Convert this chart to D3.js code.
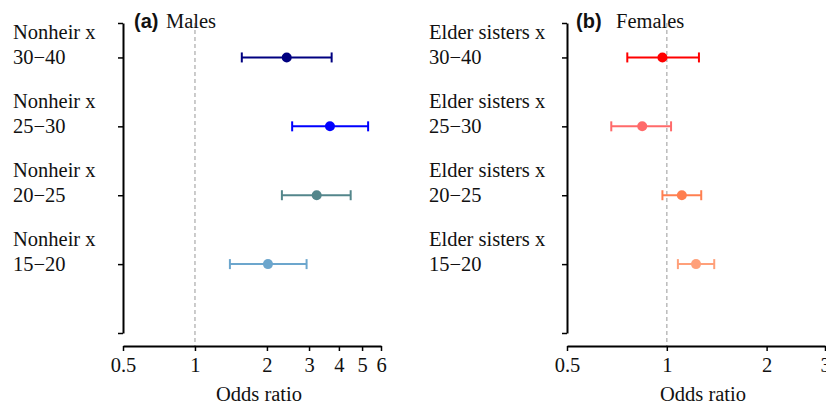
<!DOCTYPE html>
<html>
<head>
<meta charset="utf-8">
<script src="https://cdn.jsdelivr.net/npm/d3@7"></script>
<style>
  html, body { margin: 0; padding: 0; background: #fff; }
  svg { display: block; }
  text { font-family: "Liberation Serif", "Times New Roman", serif; fill: #111; }
</style>
</head>
<body>
<svg id="chart" width="826" height="407"></svg>
<script>
// age groups, top to bottom
const ageGroups = ["30\u221240", "25\u221230", "20\u221225", "15\u221220"];
const rowPos = [4, 3, 2, 1];

// (a) Males: Nonheir x age
const maleOR = [2.42, 3.67, 3.23, 2.02];
const maleLo = [1.57, 2.55, 2.31, 1.40];
const maleHi = [3.73, 5.30, 4.48, 2.93];
const maleColors = ["#000080", "#0000ff", "#53868b", "#6ca6cd"];
const maleTicks = [0.5, 1, 2, 3, 4, 5, 6];

// (b) Females: Elder sisters x age
const femaleOR = [0.97, 0.843, 1.11, 1.225];
const femaleLo = [0.76, 0.68, 0.97, 1.08];
const femaleHi = [1.25, 1.03, 1.27, 1.39];
const femaleColors = ["#ff0000", "#ff6a6a", "#ff7f50", "#ffa07a"];
const femaleTicks = [0.5, 1, 2, 3];

const svg = d3.select("#chart");
const fs = "20.5px";

function panel(o) {
  const x = d3.scaleLog().domain(o.domain).range(o.xRange);
  const y = d3.scaleLinear().domain([0, 4.5]).range([333, 23]);
  const g = svg.append("g");

  // reference line at OR = 1
  g.append("line").attr("x1", x(1)).attr("x2", x(1)).attr("y1", 23).attr("y2", 346)
    .attr("stroke", "#bbb").attr("stroke-width", 1.5).attr("stroke-dasharray", "4,3");

  // y axis (no labels, drawn separately)
  const ya = g.append("g").attr("transform", `translate(${o.xRange[0]},0)`)
    .call(d3.axisLeft(y).tickValues([0, 1, 2, 3, 4, 4.5]).tickSize(5).tickSizeOuter(0).tickFormat(""));
  ya.select(".domain").attr("stroke-width", 2);
  ya.selectAll(".tick line").attr("stroke-width", 1.5);

  // x axis
  const xa = g.append("g").attr("transform", "translate(0,346)")
    .call(d3.axisBottom(x).tickValues(o.ticks).tickSize(5).tickSizeOuter(0).tickPadding(6)
      .tickFormat(d3.format("")));
  xa.select(".domain").attr("stroke-width", 2);
  xa.selectAll(".tick line").attr("stroke-width", 1.5);
  xa.selectAll("text").style("font-family", "Liberation Serif, serif").style("font-size", fs).attr("fill", "#111");

  g.append("text").attr("x", (o.xRange[0] + o.xRange[1]) / 2 + 7).attr("y", 401)
    .attr("text-anchor", "middle").style("font-size", fs).text("Odds ratio");

  // row labels
  ageGroups.forEach((a, i) => {
    const t = g.append("text").attr("x", o.labelX).style("font-size", fs);
    t.append("tspan").attr("x", o.labelX).attr("y", y(rowPos[i]) - 18).text(o.prefix);
    t.append("tspan").attr("x", o.labelX).attr("y", y(rowPos[i]) + 7).text(a);
  });

  // title
  g.append("text").attr("x", o.tagX).attr("y", 28).style("font-family", "Liberation Sans, Arial, sans-serif")
    .style("font-weight", "bold").style("font-size", "20px").text(o.tag);
  g.append("text").attr("x", o.titleX).attr("y", 28).style("font-size", fs).text(o.title);

  // intervals
  const rows = ageGroups.map((a, i) => ({pos: rowPos[i], or: o.or[i], lo: o.lo[i], hi: o.hi[i], c: o.colors[i]}));
  const r = g.selectAll("g.row").data(rows).join("g").attr("class", "row");
  r.append("line").attr("x1", d => x(d.lo)).attr("x2", d => x(d.hi))
    .attr("y1", d => y(d.pos)).attr("y2", d => y(d.pos)).attr("stroke", d => d.c).attr("stroke-width", 2);
  r.append("line").attr("x1", d => x(d.lo)).attr("x2", d => x(d.lo))
    .attr("y1", d => y(d.pos) - 5).attr("y2", d => y(d.pos) + 5).attr("stroke", d => d.c).attr("stroke-width", 2);
  r.append("line").attr("x1", d => x(d.hi)).attr("x2", d => x(d.hi))
    .attr("y1", d => y(d.pos) - 5).attr("y2", d => y(d.pos) + 5).attr("stroke", d => d.c).attr("stroke-width", 2);
  r.append("circle").attr("cx", d => x(d.or)).attr("cy", d => y(d.pos)).attr("r", 5).attr("fill", d => d.c);
}

panel({domain: [0.5, 6], xRange: [123, 381], ticks: maleTicks, or: maleOR, lo: maleLo, hi: maleHi,
  colors: maleColors, labelX: 13, prefix: "Nonheir x", tag: "(a)", tagX: 134, title: "Males", titleX: 166});
panel({domain: [0.5, 3], xRange: [567, 825], ticks: femaleTicks, or: femaleOR, lo: femaleLo, hi: femaleHi,
  colors: femaleColors, labelX: 429, prefix: "Elder sisters x", tag: "(b)", tagX: 576, title: "Females", titleX: 616});
</script>
</body>
</html>
